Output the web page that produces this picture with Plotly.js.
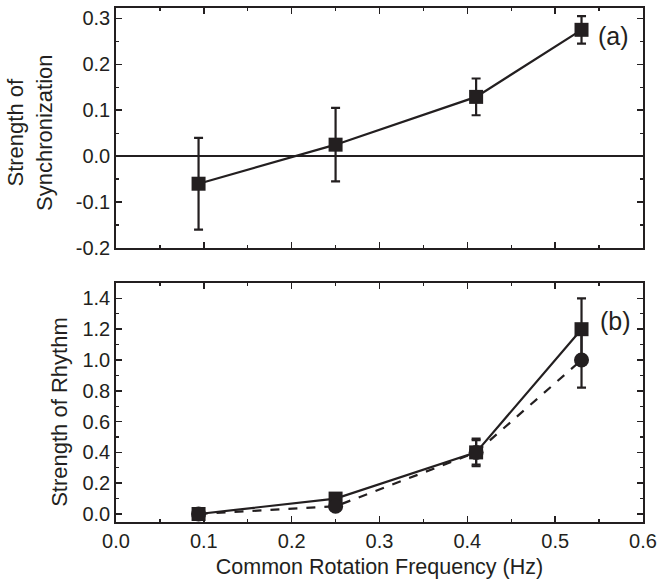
<!DOCTYPE html>
<html><head><meta charset="utf-8">
<script src="https://cdn.plot.ly/plotly-3.0.1.min.js"></script>
<style>html,body{margin:0;padding:0;background:#fff}</style>
</head><body><div id="chart" style="width:657px;height:584px"></div>
<script>
const freq = [0.094, 0.25, 0.41, 0.53];
const syncVals = [-0.06, 0.025, 0.129, 0.275];
const syncErr = [0.10, 0.08, 0.04, 0.03];
const rhythmSquare = [0.0, 0.10, 0.40, 1.20];
const rhythmSquareErr = [0.02, 0.03, 0.09, 0.20];
const rhythmCircle = [0.0, 0.05, 0.40, 1.00];
const rhythmCircleErr = [0.02, 0.03, 0.08, 0.18];
const xTicks = [0.0, 0.1, 0.2, 0.3, 0.4, 0.5, 0.6];
const xTickText = ['0.0', '0.1', '0.2', '0.3', '0.4', '0.5', '0.6'];
const syncTicks = [-0.2, -0.1, 0.0, 0.1, 0.2, 0.3];
const syncTickText = ['-0.2', '-0.1', '0.0', '0.1', '0.2', '0.3'];
const rhythmTicks = [0.0, 0.2, 0.4, 0.6, 0.8, 1.0, 1.2, 1.4];
const rhythmTickText = ['0.0', '0.2', '0.4', '0.6', '0.8', '1.0', '1.2', '1.4'];

const C = '#231f20';
const FONT = 'Liberation Sans, Arial, sans-serif';
const errStyle = (arr) => ({type:'data', array: arr, visible:true, color:C, thickness:2.2, width:4.5});

const traces = [
  {x:freq, y:syncVals, xaxis:'x', yaxis:'y', mode:'lines+markers', type:'scatter',
   line:{color:C, width:2.2}, marker:{symbol:'square', size:14, color:C},
   error_y: errStyle(syncErr), showlegend:false},
  {x:freq, y:rhythmSquare, xaxis:'x2', yaxis:'y2', mode:'lines+markers', type:'scatter',
   line:{color:C, width:2.2}, marker:{symbol:'square', size:14, color:C},
   error_y: errStyle(rhythmSquareErr), showlegend:false},
  {x:freq, y:rhythmCircle, xaxis:'x2', yaxis:'y2', mode:'lines+markers', type:'scatter',
   line:{color:C, width:2.2, dash:'dash'}, marker:{symbol:'circle', size:15, color:C},
   error_y: errStyle(rhythmCircleErr), showlegend:false}
];

const minorStyle = (d) => ({dtick:d, tick0:0, ticks:'inside', ticklen:3, tickwidth:1.3, tickcolor:C});
const axCommon = {showline:true, linecolor:C, linewidth:1.8, mirror:'ticks', ticks:'inside',
  ticklen:6, tickwidth:1.5, tickcolor:C, showgrid:false, zeroline:false,
  tickfont:{family:FONT, size:20, color:C}};

const layout = {
  width:657, height:584,
  margin:{l:116, r:14, t:8, b:62},
  paper_bgcolor:'#fff', plot_bgcolor:'#fff',
  font:{family:FONT, color:C},
  xaxis: Object.assign({}, axCommon, {domain:[0,1], range:[0,0.6], tickmode:'array', tickvals:xTicks,
    ticktext:xTickText, showticklabels:false, anchor:'y', minor:minorStyle(0.05)}),
  yaxis: Object.assign({}, axCommon, {domain:[0.533,1], range:[-0.2,0.3225], tickmode:'array',
    tickvals:syncTicks, ticktext:syncTickText, anchor:'x',
    zeroline:true, zerolinecolor:C, zerolinewidth:1.6, minor:minorStyle(0.05)}),
  xaxis2: Object.assign({}, axCommon, {domain:[0,1], range:[0,0.6], tickmode:'array', tickvals:xTicks,
    ticktext:xTickText, anchor:'y2', minor:minorStyle(0.05),
    title:{text:'Common Rotation Frequency (Hz)', font:{family:FONT, size:21.5, color:C}, standoff:8}}),
  yaxis2: Object.assign({}, axCommon, {domain:[0,0.465], range:[-0.052,1.5], tickmode:'array',
    tickvals:rhythmTicks, ticktext:rhythmTickText, anchor:'x2', minor:minorStyle(0.1)}),
  annotations:[
    {text:'Strength of<br>Synchronization', xref:'paper', yref:'paper', x:-0.163, y:0.757,
     xanchor:'center', yanchor:'middle', textangle:-90, showarrow:false,
     font:{family:FONT, size:22, color:C}},
    {text:'Strength of Rhythm', xref:'paper', yref:'paper', x:-0.106, y:0.2146,
     xanchor:'center', yanchor:'middle', textangle:-90, showarrow:false,
     font:{family:FONT, size:22, color:C}},
    {text:'(a)', xref:'x', yref:'y', x:0.547, y:0.262, xanchor:'left', yanchor:'middle', showarrow:false,
     font:{family:FONT, size:25, color:C}},
    {text:'(b)', xref:'x2', yref:'y2', x:0.549, y:1.25, xanchor:'left', yanchor:'middle', showarrow:false,
     font:{family:FONT, size:25, color:C}}
  ]
};

Plotly.newPlot('chart', traces, layout, {displayModeBar:false, staticPlot:true});
</script></body></html>
